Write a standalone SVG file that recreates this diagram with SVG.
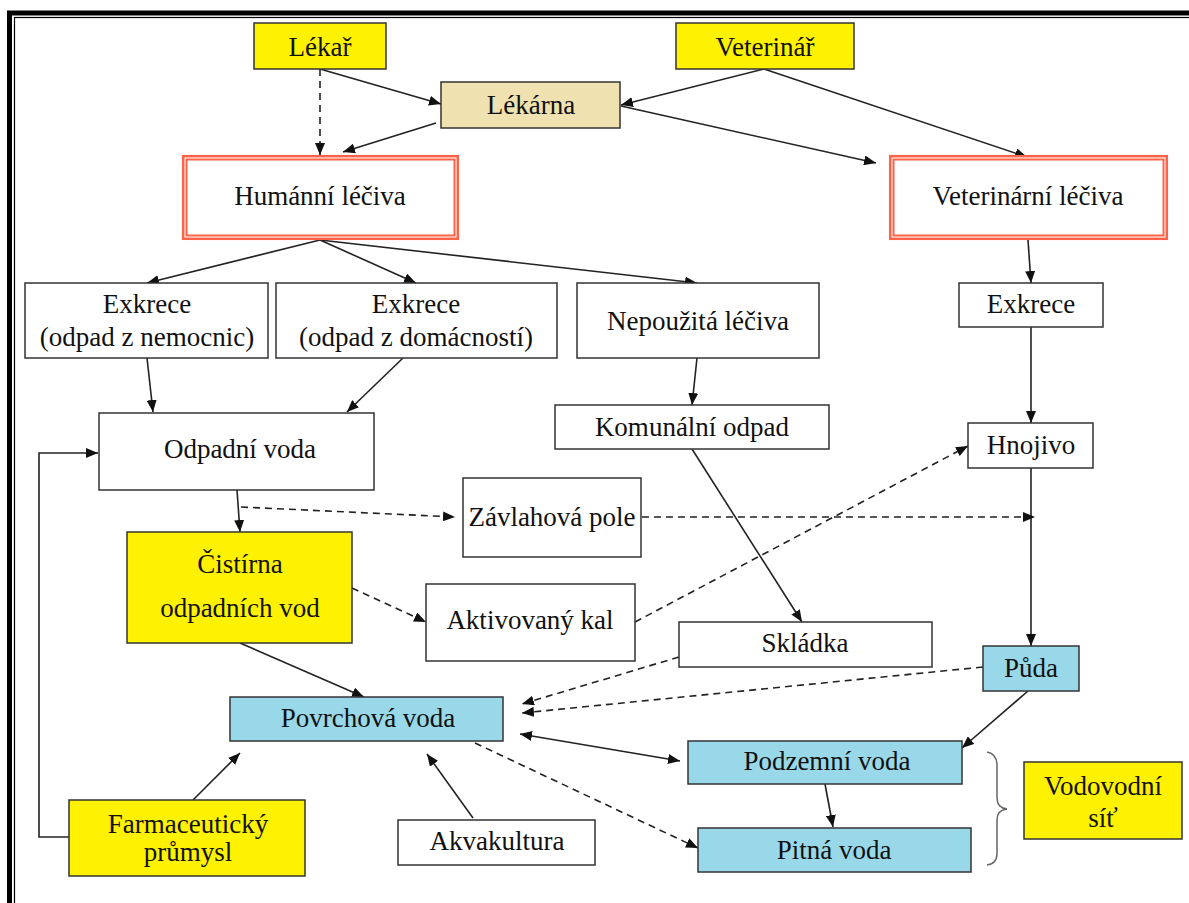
<svg xmlns="http://www.w3.org/2000/svg" width="1189" height="903" viewBox="0 0 1189 903">
<defs>
<marker id="ah" viewBox="0 0 12 10" refX="12" refY="5" markerWidth="12" markerHeight="10" markerUnits="userSpaceOnUse" orient="auto-start-reverse">
<path d="M0,0 L12,5 L0,10 Z" fill="#111"/>
</marker>
</defs>
<style>
.box{stroke:#333;stroke-width:1.5}
.w{fill:#fff}
.y{fill:#fff200}
.b{fill:#99d8e8}
.k{fill:#efe2b0}
.red{fill:none;stroke:#ff6347}
text{font-family:"Liberation Serif","Times New Roman",serif;font-size:27px;fill:#111;text-anchor:middle}
.c{fill:none;stroke:#222;stroke-width:1.6;marker-end:url(#ah)}
.d{stroke-dasharray:7 5}
</style>
<rect width="1189" height="903" fill="#fff"/>
<g id="frame" fill="none">
<rect x="9.5" y="13" width="1200" height="920" stroke="#000" stroke-width="5"/>
<rect x="14.5" y="17.5" width="1200" height="920" stroke="#000" stroke-width="1.2"/>
</g>
<g id="connectors">
<path class="c d" d="M320,69 L320,155"/>
<path class="c" d="M320,69 L441,104"/>
<path class="c" d="M436,123 L343,152"/>
<path class="c" d="M764,69 L621,105"/>
<path class="c" d="M764,69 L1027,157"/>
<path class="c" d="M621,106 L876,163"/>
<path class="c" d="M320,240 L147,283"/>
<path class="c" d="M320,240 L416,283"/>
<path class="c" d="M320,240 L697,283"/>
<path class="c" d="M1028,240 L1031,283"/>
<path class="c" d="M147,358 L153,412"/>
<path class="c" d="M403,358 L347,412"/>
<path class="c" d="M697,358 L692,405"/>
<path class="c" d="M1031,327 L1031,423"/>
<path class="c" d="M692,449 L802,622"/>
<path class="c" d="M1031,467 L1031,646"/>
<path class="c" d="M237,490 L240,532"/>
<path class="c d" d="M241,507 L455,517"/>
<path class="c d" d="M642,517 L1035,517"/>
<path class="c d" d="M352,588 L426,622"/>
<path class="c d" d="M635,622 L968,446"/>
<path class="c" d="M240,643 L364,697"/>
<path class="c d" d="M679,657 L522,704"/>
<path class="c d" d="M983,667 L522,713"/>
<path class="c" style="marker-start:url(#ah)" d="M520,734 L680,761"/>
<path class="c d" d="M475,743 L698,848"/>
<path class="c" d="M1028,691 L962,748"/>
<path class="c" d="M825,784 L833,827"/>
<path class="c" d="M193,800 L240,753"/>
<path class="c" d="M473,818 L427,754"/>
<path class="c" d="M69,837 L39,837 L39,453 L98,453"/>
<path d="M987,752 Q997,754 997,765 L997,798 Q997,808 1007,809 Q997,810 997,820 L997,853 Q997,864 987,865" fill="none" stroke="#666" stroke-width="1.5"/>
</g>
<g id="lekar"><rect class="box y" x="254" y="23" width="132" height="46"/><text x="320" y="56">Lékař</text></g>
<g id="veterinar"><rect class="box y" x="676" y="23" width="178" height="46"/><text x="765" y="56">Veterinář</text></g>
<g id="lekarna"><rect class="box k" x="441" y="82" width="179" height="46"/><text x="531" y="114">Lékárna</text></g>
<g id="humanni"><rect x="182" y="155" width="277" height="85" fill="#fff"/><rect class="red" x="183.2" y="156.2" width="274.6" height="82.6" stroke-width="2.5"/><rect class="red" x="186.5" y="159.5" width="268" height="76" stroke-width="2"/><text x="320" y="205">Humánní léčiva</text></g>
<g id="veterinarni"><rect x="889" y="155" width="279" height="85" fill="#fff"/><rect class="red" x="890.2" y="156.2" width="276.6" height="82.6" stroke-width="2.5"/><rect class="red" x="893.5" y="159.5" width="270" height="76" stroke-width="2"/><text x="1028" y="205">Veterinární léčiva</text></g>
<g id="exkrece1"><rect class="box w" x="25" y="283" width="243" height="75"/><text x="147" y="313">Exkrece</text><text x="147" y="346">(odpad z nemocnic)</text></g>
<g id="exkrece2"><rect class="box w" x="276" y="283" width="281" height="75"/><text x="416" y="313">Exkrece</text><text x="416" y="346">(odpad z domácností)</text></g>
<g id="nepouzita"><rect class="box w" x="577" y="283" width="242" height="75"/><text x="698" y="330">Nepoužitá léčiva</text></g>
<g id="exkrece3"><rect class="box w" x="959" y="283" width="144" height="44"/><text x="1031" y="313">Exkrece</text></g>
<g id="komunalni"><rect class="box w" x="555" y="405" width="274" height="44"/><text x="692" y="436">Komunální odpad</text></g>
<g id="hnojivo"><rect class="box w" x="968" y="423" width="125" height="45"/><text x="1031" y="454">Hnojivo</text></g>
<g id="odpadni"><rect class="box w" x="99" y="413" width="275" height="77"/><text x="240" y="458">Odpadní voda</text></g>
<g id="zavlahova"><rect class="box w" x="463" y="478" width="178" height="79"/><text x="552" y="526">Závlahová pole</text></g>
<g id="cistirna"><rect class="box y" x="127" y="532" width="225" height="111"/><text x="240" y="573">Čistírna</text><text x="240" y="617">odpadních vod</text></g>
<g id="aktivovany"><rect class="box w" x="426" y="584" width="209" height="77"/><text x="530" y="629">Aktivovaný kal</text></g>
<g id="skladka"><rect class="box w" x="679" y="622" width="253" height="45"/><text x="805" y="652">Skládka</text></g>
<g id="puda"><rect class="box b" x="983" y="646" width="96" height="45"/><text x="1031" y="677">Půda</text></g>
<g id="povrchova"><rect class="box b" x="230" y="697" width="273" height="44"/><text x="368" y="727">Povrchová voda</text></g>
<g id="podzemni"><rect class="box b" x="688" y="741" width="274" height="43"/><text x="827" y="770">Podzemní voda</text></g>
<g id="pitna"><rect class="box b" x="698" y="828" width="273" height="44"/><text x="834" y="859">Pitná voda</text></g>
<g id="farmaceuticky"><rect class="box y" x="69" y="800" width="236" height="76"/><text x="188" y="833">Farmaceutický</text><text x="188" y="861">průmysl</text></g>
<g id="akvakultura"><rect class="box w" x="398" y="820" width="197" height="45"/><text x="497" y="850">Akvakultura</text></g>
<g id="vodovodni"><rect class="box y" x="1024" y="762" width="158" height="77"/><text x="1103" y="795">Vodovodní</text><text x="1103" y="827">síť</text></g>
</svg>
